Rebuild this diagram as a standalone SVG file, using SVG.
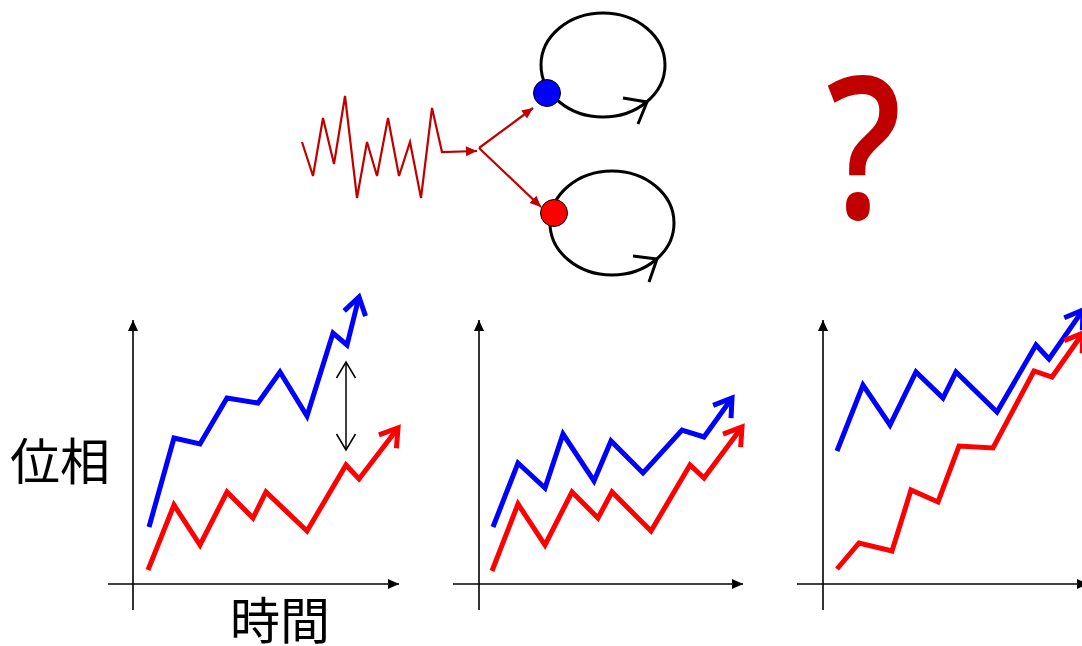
<svg xmlns="http://www.w3.org/2000/svg" width="1082" height="646" viewBox="0 0 1082 646">
<style>
.axis{stroke:#000;stroke-width:1.6;fill:none}
.blue{stroke:#0000ff;stroke-width:5;fill:none;stroke-linejoin:miter}
.red{stroke:#ff0000;stroke-width:5;fill:none;stroke-linejoin:miter}
.dr{stroke:#c00000;stroke-width:2.2;fill:none;stroke-linejoin:miter}
.orbit{stroke:#000;stroke-width:3;fill:none}
.lbl{font-family:"Noto Sans CJK JP","Noto Sans CJK SC",sans-serif;font-size:50px;fill:#000}
</style>
<defs>
<marker id="mAxis" markerUnits="userSpaceOnUse" viewBox="-12 -7 14 14" refX="0" refY="0" markerWidth="14" markerHeight="14" orient="auto" overflow="visible"><path d="M-11,-5 L0,0 L-11,5 Z" fill="#000"/></marker>
<marker id="mDR" markerUnits="userSpaceOnUse" viewBox="-12 -7 14 14" refX="0" refY="0" markerWidth="14" markerHeight="14" orient="auto" overflow="visible"><path d="M-11,-5 L0,0 L-11,5 Z" fill="#c00000"/></marker>
<marker id="mBlue" markerUnits="userSpaceOnUse" viewBox="-25 -15 30 30" refX="0" refY="0" markerWidth="30" markerHeight="30" orient="auto" overflow="visible"><path d="M-17,-11 L0,0 L-17,11" fill="none" stroke="#0000ff" stroke-width="5"/></marker>
<marker id="mRed" markerUnits="userSpaceOnUse" viewBox="-25 -15 30 30" refX="0" refY="0" markerWidth="30" markerHeight="30" orient="auto" overflow="visible"><path d="M-17,-11 L0,0 L-17,11" fill="none" stroke="#ff0000" stroke-width="5"/></marker>
<marker id="mOpen" markerUnits="userSpaceOnUse" viewBox="-20 -12 24 24" refX="0" refY="0" markerWidth="24" markerHeight="24" orient="auto-start-reverse" overflow="visible"><path d="M-16,-9.5 L0,0 L-16,9.5" fill="none" stroke="#000" stroke-width="1.5"/></marker>
</defs>
<rect width="1082" height="646" fill="#fff"/>

<g id="orbit-top">
<ellipse cx="603" cy="65" rx="62" ry="52" class="orbit"/>
<polyline points="623,98 647,102 638,124" class="orbit"/>
<circle cx="547" cy="93" r="13.5" fill="#0000ff" stroke="#000" stroke-width="1"/>
</g>
<g id="orbit-bottom">
<ellipse cx="612" cy="223" rx="62" ry="52" class="orbit"/>
<polyline points="633,256 657,259 649,282" class="orbit"/>
<circle cx="554" cy="213" r="13.5" fill="#ff0000" stroke="#000" stroke-width="1"/>
</g>
<g id="wave">
<polyline points="302,142 313,176 323,118 334,164 345,96 357,198 367,142 377,176 388,118 399,176 410,142 421,198 432,108 442,152 477,151" class="dr" marker-end="url(#mDR)"/>
</g>
<g id="question">
<text transform="translate(864,218) scale(0.84,1)" x="0" y="0" font-family="'Open Sans',sans-serif" font-weight="600" font-size="198" fill="#c00000" text-anchor="middle">?</text>
</g>

<g id="chart1">
<line x1="133" y1="610" x2="133" y2="320" class="axis" marker-end="url(#mAxis)"/>
<line x1="108" y1="584" x2="399" y2="584" class="axis" marker-end="url(#mAxis)"/>
<polyline points="149,527 174,438 200,444 227,398 258,403 280,372 307,416 333,333 347,345 359,297" class="blue" marker-end="url(#mBlue)"/>
<polyline points="148,570 174,505 200,545 227,492 253,518 266,492 307,531 346,465 359,479 398,428" class="red" marker-end="url(#mRed)"/>
<line x1="346" y1="362" x2="346" y2="450" stroke="#000" stroke-width="1.5" marker-start="url(#mOpen)" marker-end="url(#mOpen)"/>
<text x="10" y="480" class="lbl">位相</text>
<text x="230" y="639" class="lbl">時間</text>
</g>
<g id="chart2">
<line x1="479" y1="610" x2="479" y2="320" class="axis" marker-end="url(#mAxis)"/>
<line x1="453" y1="584" x2="743" y2="584" class="axis" marker-end="url(#mAxis)"/>
<polyline points="493,527 518,463 545,488 563,434 594,481 611,441 643,473 682,430 704,437 732,398" class="blue" marker-end="url(#mBlue)"/>
<polyline points="492,571 518,504 545,545 572,492 598,518 612,492 651,531 690,465 704,478 742,427" class="red" marker-end="url(#mRed)"/>
</g>
<g id="chart3">
<line x1="823" y1="610" x2="823" y2="320" class="axis" marker-end="url(#mAxis)"/>
<line x1="797" y1="584" x2="1088" y2="584" class="axis" marker-end="url(#mAxis)"/>
<polyline points="837,451 863,385 890,425 916,372 943,398 956,372 997,412 1036,345 1049,359 1083,310" class="blue" marker-end="url(#mBlue)"/>
<polyline points="837,569 859,543 892,551 911,490 938,502 959,446 993,448 1034,371 1052,377 1083,333" class="red" marker-end="url(#mRed)"/>
</g>

<g id="connectors">
<line x1="479" y1="148" x2="533" y2="108" class="dr" marker-end="url(#mDR)"/>
<line x1="479" y1="148" x2="541" y2="207" class="dr" marker-end="url(#mDR)"/>
</g>
</svg>
